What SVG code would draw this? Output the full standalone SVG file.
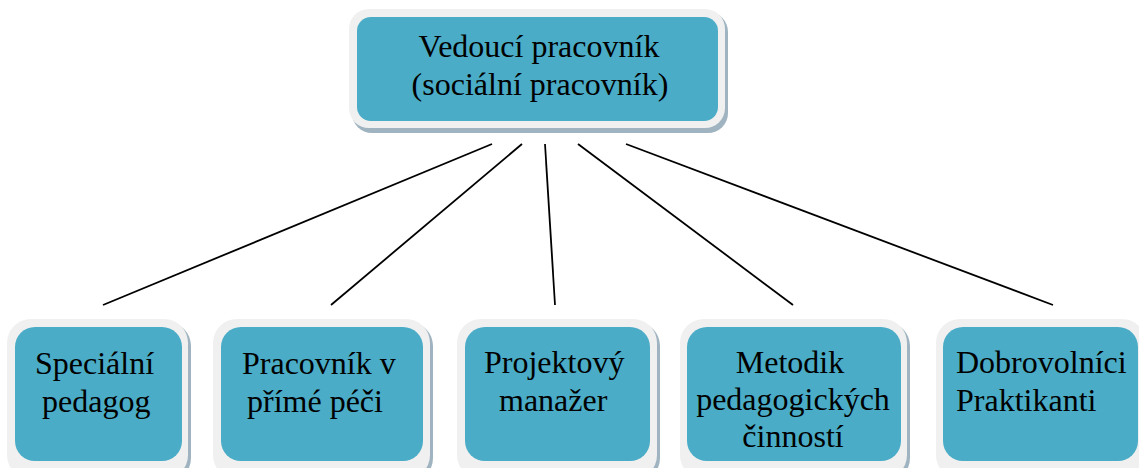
<svg xmlns="http://www.w3.org/2000/svg" width="1139" height="468" viewBox="0 0 1139 468">
<style>
.sh{fill:#9fb4c0}
.fr{fill:#f0f0f0}
.in{fill:#4aacc6}
.t{font-family:"Liberation Serif","Times New Roman",serif;font-size:32px;fill:#000}
.c{text-anchor:middle}
.ln{stroke:#000;stroke-width:1.8;fill:none}
</style>
<rect width="1139" height="468" fill="#fff"/>
<g id="connectors">
<line class="ln" x1="492" y1="144" x2="103" y2="305"/>
<line class="ln" x1="522" y1="144" x2="331" y2="305"/>
<line class="ln" x1="545" y1="144" x2="555" y2="305"/>
<line class="ln" x1="578" y1="144" x2="793" y2="305"/>
<line class="ln" x1="626" y1="144" x2="1053" y2="305"/>
</g>
<g id="n0">
<rect class="sh" x="352" y="12" width="376" height="121" rx="20"/>
<rect class="fr" x="349" y="9" width="376" height="119" rx="20"/>
<rect class="in" x="357" y="17" width="361" height="104" rx="14"/>
<text class="t c" x="539" y="57">Vedoucí pracovník</text>
<text class="t c" x="540" y="95">(sociální pracovník)</text>
</g>
<g id="n1">
<rect class="sh" x="10" y="322" width="181" height="160" rx="24"/>
<rect class="fr" x="7" y="319" width="181" height="160" rx="24"/>
<rect class="in" x="15" y="327" width="167" height="134" rx="20"/>
<text class="t" x="35" y="374">Speciální</text>
<text class="t" x="42" y="412">pedagog</text>
</g>
<g id="n2">
<rect class="sh" x="216" y="322" width="217" height="160" rx="24"/>
<rect class="fr" x="213" y="319" width="217" height="160" rx="24"/>
<rect class="in" x="221" y="327" width="202" height="134" rx="20"/>
<text class="t" x="242" y="374">Pracovník v</text>
<text class="t" x="247" y="412">přímé péči</text>
</g>
<g id="n3">
<rect class="sh" x="460" y="322" width="200" height="160" rx="24"/>
<rect class="fr" x="457" y="319" width="200" height="160" rx="24"/>
<rect class="in" x="465" y="327" width="185" height="134" rx="20"/>
<text class="t" x="484" y="373">Projektový</text>
<text class="t" x="499" y="411">manažer</text>
</g>
<g id="n4">
<rect class="sh" x="683" y="322" width="227" height="160" rx="24"/>
<rect class="fr" x="680" y="319" width="227" height="160" rx="24"/>
<rect class="in" x="687" y="327" width="214" height="134" rx="20"/>
<text class="t c" x="790" y="373">Metodik</text>
<text class="t c" x="793" y="410">pedagogických</text>
<text class="t c" x="793" y="447">činností</text>
</g>
<g id="n5">
<rect class="sh" x="939" y="322" width="210" height="160" rx="24"/>
<rect class="fr" x="936" y="319" width="210" height="160" rx="24"/>
<rect class="in" x="943" y="327" width="195" height="134" rx="20"/>
<text class="t" x="956" y="373">Dobrovolníci</text>
<text class="t" x="956" y="411">Praktikanti</text>
</g>
</svg>
